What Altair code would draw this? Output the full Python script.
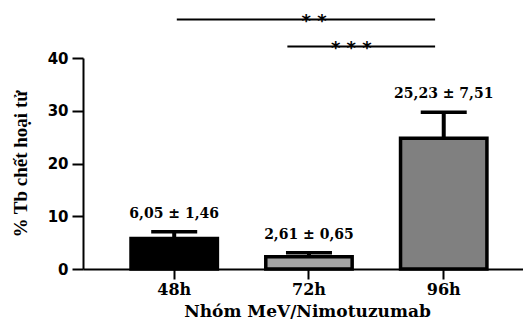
import altair as alt
import pandas as pd

categories = ["48h", "72h", "96h"]
means = [5.8, 2.3, 24.8]
errors = [1.25, 0.8, 4.9]
labels = ["6,05 ± 1,46", "2,61 ± 0,65", "25,23 ± 7,51"]
colors = ["#000000", "#a3a3a3", "#808080"]

bracket_start = ["48h", "72h"]
bracket_end = ["96h", "96h"]
bracket_y = [47.3, 42.2]
bracket_stars = ["* *", "* * *"]
start_pos = [0.53, 0.25]
star_pos = [0.56, 0.99]

df = pd.DataFrame({"cat": categories, "mean": means, "err": errors, "label": labels})
df["top"] = df["mean"] + df["err"]

xscale = alt.Scale(domain=categories, paddingInner=0.359, paddingOuter=0.312, align=0.571)
yscale = alt.Scale(domain=[0, 40], nice=False)

xaxis = alt.Axis(
    title="Nhóm MeV/Nimotuzumab", titleFont="DejaVu Serif", titleFontSize=17,
    titleFontWeight="bold", titleBaseline="alphabetic", titleY=47, titleX=224,
    titleColor="black",
    labelAngle=0, labelFont="DejaVu Serif", labelFontWeight="bold", labelFontSize=16,
    labelBaseline="alphabetic", labelPadding=15.5, labelColor="black",
    tickSize=10, tickWidth=2, tickColor="black", domainWidth=2, domainColor="black",
)
yaxis = alt.Axis(
    title="% Tb chết hoại tử", titleFont="Liberation Serif", titleFontSize=19,
    titleFontWeight="bold", titleAngle=270, titleX=-63, titleY=105.5,
    titleAlign="center", titleBaseline="middle", titleColor="black",
    values=[0, 10, 20, 30, 40], labelFont="DejaVu Sans", labelFontWeight="bold",
    labelFontSize=15, labelPadding=4, labelColor="black",
    tickSize=11, tickWidth=2, tickColor="black", domainWidth=2, domainColor="black",
    grid=False,
)

base = alt.Chart(df)
bars = base.mark_bar(stroke="black", strokeWidth=3.5).encode(
    x=alt.X("cat:N", scale=xscale, axis=xaxis, sort=categories),
    y=alt.Y("mean:Q", scale=yscale, axis=yaxis),
    color=alt.Color("cat:N", scale=alt.Scale(domain=categories, range=colors), legend=None),
)
stems = base.mark_rule(color="black", strokeWidth=4).encode(
    x=alt.X("cat:N", scale=xscale, sort=categories),
    y=alt.Y("mean:Q", scale=yscale),
    y2="top:Q",
)
caps = base.mark_tick(color="black", thickness=3.5, size=46, opacity=1).encode(
    x=alt.X("cat:N", scale=xscale, sort=categories),
    y=alt.Y("top:Q", scale=yscale),
)
texts = base.mark_text(font="DejaVu Serif", fontWeight="bold", fontSize=14,
                       baseline="alphabetic", dy=-14, color="black").encode(
    x=alt.X("cat:N", scale=xscale, sort=categories),
    y=alt.Y("top:Q", scale=yscale),
    text="label:N",
)

layers = [bars, stems, caps, texts]
for i in range(len(bracket_start)):
    bdf = pd.DataFrame({"s": [bracket_start[i]], "e": [bracket_end[i]],
                        "y": [bracket_y[i]], "t": [bracket_stars[i]]})
    rule = alt.Chart(bdf).mark_rule(color="black", strokeWidth=2).encode(
        x=alt.X("s:N", scale=xscale, bandPosition=start_pos[i]),
        x2=alt.X2("e:N", bandPosition=0.4),
        y=alt.Y("y:Q", scale=yscale),
    )
    star = alt.Chart(bdf).mark_text(font="DejaVu Sans", fontWeight="bold", fontSize=18,
                                    baseline="alphabetic", dy=7.5, color="black").encode(
        x=alt.X("cat72:N", scale=xscale, bandPosition=star_pos[i]),
        y=alt.Y("y:Q", scale=yscale),
        text="t:N",
    ).transform_calculate(cat72="'72h'")
    layers += [rule, star]

chart = alt.layer(*layers).properties(
    width=440, height=211,
    autosize=alt.AutoSizeParams(type="none"),
    padding={"left": 75, "top": 50, "right": 0, "bottom": 50},
).configure_view(stroke=None)

chart.save("out.html", embed_options={"renderer": "svg", "actions": False})
